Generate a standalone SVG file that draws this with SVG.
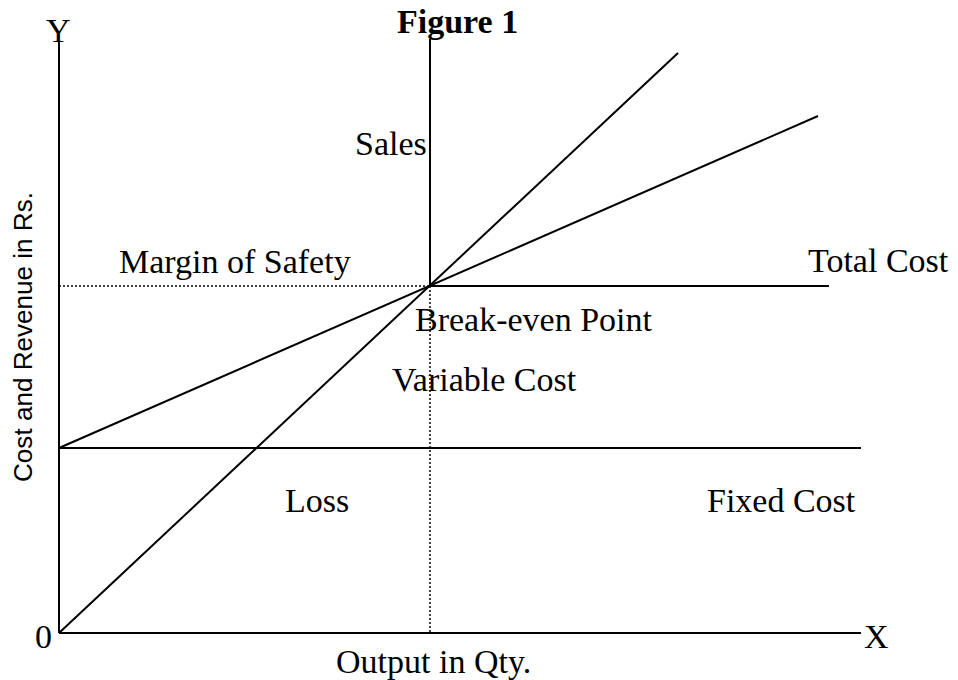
<svg xmlns="http://www.w3.org/2000/svg" width="958" height="680" viewBox="0 0 958 680">
<style>
.ln{stroke:#000;stroke-width:2;fill:none}
.dot{stroke:#000;stroke-width:1.5;stroke-dasharray:2 2;fill:none}
.t{font-family:"Liberation Serif","Times New Roman",serif;font-size:34px;fill:#000}
.b{font-weight:bold}
.s{font-family:"Liberation Sans",Arial,sans-serif;font-size:26px;fill:#000}
</style>
<rect width="958" height="680" fill="#fff"/>
<g id="connectors">
<line class="ln" x1="59" y1="42" x2="59" y2="633"/>
<line class="ln" x1="59" y1="633" x2="861" y2="633"/>
<line class="ln" x1="59" y1="448" x2="861" y2="448"/>
<line class="ln" x1="430" y1="39" x2="430" y2="286"/>
<line class="dot" x1="430" y1="286" x2="430" y2="633"/>
<line class="dot" x1="59" y1="286" x2="430" y2="286"/>
<line class="ln" x1="430" y1="286" x2="829" y2="286"/>
<line class="ln" x1="59" y1="448" x2="818" y2="116"/>
<line class="ln" x1="59" y1="633" x2="678" y2="53"/>
</g>
<g id="title"><text class="t b" x="397" y="33">Figure 1</text></g>
<g id="axis-y"><text class="t" x="46" y="42">Y</text></g>
<g id="axis-x"><text class="t" x="864" y="648">X</text></g>
<g id="origin"><text class="t" x="35" y="648">0</text></g>
<g id="y-label"><text class="s" transform="translate(32,482) rotate(-90)" textLength="290" lengthAdjust="spacingAndGlyphs">Cost and Revenue in Rs.</text></g>
<g id="x-label"><text class="t" x="336" y="673">Output in Qty.</text></g>
<g id="sales"><text class="t" x="355" y="155">Sales</text></g>
<g id="margin-of-safety"><text class="t" x="119" y="273">Margin of Safety</text></g>
<g id="total-cost"><text class="t" x="808" y="272">Total Cost</text></g>
<g id="break-even-point"><text class="t" x="415" y="331">Break-even Point</text></g>
<g id="variable-cost"><text class="t" x="392" y="391">Variable Cost</text></g>
<g id="loss"><text class="t" x="285" y="512">Loss</text></g>
<g id="fixed-cost"><text class="t" x="707" y="512">Fixed Cost</text></g>
</svg>
